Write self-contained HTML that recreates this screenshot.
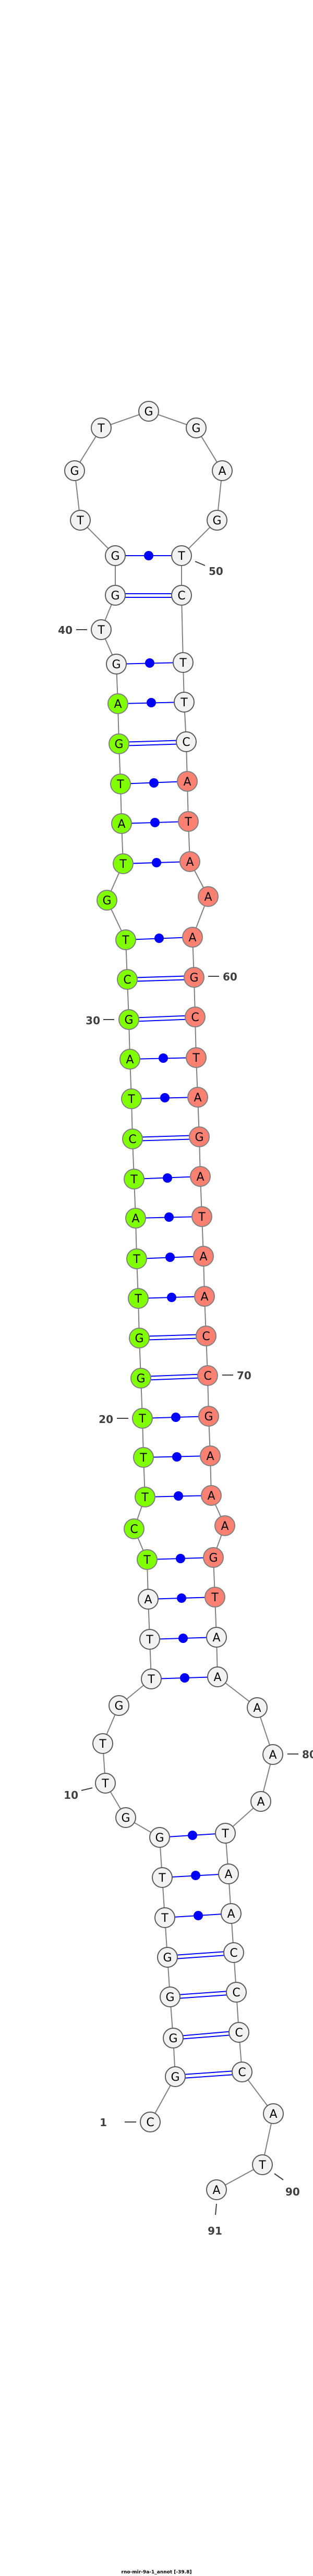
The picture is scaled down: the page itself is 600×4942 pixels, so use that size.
<!DOCTYPE html>
<html><head><meta charset="utf-8"><style>
html,body{margin:0;padding:0;background:#fff;}
svg{display:block;}
.n text{font-family:"DejaVu Sans","Liberation Sans",sans-serif;font-size:22px;text-anchor:middle;fill:#000;}
.w{fill:#f2f2f2;stroke:#5a5a5a;stroke-width:2;}
.g{fill:#7fff00;stroke:#808080;stroke-width:2;}
.r{fill:#fa8072;stroke:#808080;stroke-width:2;}
.lb{font-family:"DejaVu Sans","Liberation Sans",sans-serif;font-size:20px;font-weight:bold;fill:#404040;}
</style></head><body>
<svg width="600" height="4942" viewBox="0 0 600 4942" xmlns="http://www.w3.org/2000/svg">
<polyline fill="none" stroke="#808080" stroke-width="2" points="288,4071 336,3984 332,3910 326,3831 321,3755 316,3679 311,3602 306,3525 241,3487 202,3421 197,3345 228,3272 290,3221 287,3145 284,3068 282,2992 257,2933 278,2872 275,2796 273,2721 270,2644 267,2567 265,2491 262,2415 260,2337 257,2262 254,2185 252,2108 249,2032 247,1956 244,1879 241,1803 205,1727 236,1657 233,1580 231,1504 228,1427 226,1350 223,1274 194,1208 221,1142 221,1066 154,998 143,903 194,821 285,789 376,821 426,903 416,998 348,1066 348,1142 351,1271 353,1347 357,1423 359,1499 361,1576 364,1653 399,1720 369,1798 372,1875 374,1951 376,2029 379,2105 382,2181 384,2257 387,2334 390,2410 392,2487 395,2563 398,2639 400,2717 403,2793 405,2869 431,2927 409,2988 412,3064 415,3141 417,3217 493,3276 523,3366 500,3456 432,3517 438,3595 443,3671 448,3746 453,3822 458,3899 464,3975 524,4055 503,4153 415,4201"/>
<g stroke="#0000ff" stroke-width="2">
<!-- double lines (GC) -->
<line x1="336" y1="3981" x2="464" y2="3972"/><line x1="336" y1="3988" x2="464" y2="3979"/>
<line x1="332" y1="3907" x2="458" y2="3896"/><line x1="332" y1="3913" x2="458" y2="3903"/>
<line x1="326" y1="3828" x2="453" y2="3819"/><line x1="326" y1="3835" x2="453" y2="3826"/>
<line x1="321" y1="3752" x2="448" y2="3743"/><line x1="321" y1="3759" x2="448" y2="3750"/>
<line x1="270" y1="2641" x2="398" y2="2636"/><line x1="270" y1="2648" x2="398" y2="2643"/>
<line x1="267" y1="2564" x2="395" y2="2560"/><line x1="267" y1="2571" x2="395" y2="2567"/>
<line x1="254" y1="2182" x2="382" y2="2178"/><line x1="254" y1="2189" x2="382" y2="2185"/>
<line x1="247" y1="1953" x2="374" y2="1948"/><line x1="247" y1="1960" x2="374" y2="1955"/>
<line x1="244" y1="1876" x2="372" y2="1872"/><line x1="244" y1="1883" x2="372" y2="1879"/>
<line x1="228" y1="1424" x2="357" y2="1420"/><line x1="228" y1="1431" x2="357" y2="1427"/>
<line x1="221" y1="1139" x2="348" y2="1139"/><line x1="221" y1="1146" x2="348" y2="1146"/>
<!-- single lines -->
<line x1="316" y1="3679" x2="443" y2="3671"/>
<line x1="311" y1="3602" x2="438" y2="3595"/>
<line x1="306" y1="3525" x2="432" y2="3517"/>
<line x1="290" y1="3221" x2="417" y2="3217"/>
<line x1="287" y1="3145" x2="415" y2="3141"/>
<line x1="284" y1="3068" x2="412" y2="3064"/>
<line x1="282" y1="2992" x2="409" y2="2988"/>
<line x1="278" y1="2872" x2="405" y2="2869"/>
<line x1="275" y1="2796" x2="403" y2="2793"/>
<line x1="273" y1="2721" x2="400" y2="2717"/>
<line x1="265" y1="2491" x2="392" y2="2487"/>
<line x1="262" y1="2415" x2="390" y2="2410"/>
<line x1="260" y1="2337" x2="387" y2="2334"/>
<line x1="257" y1="2262" x2="384" y2="2257"/>
<line x1="252" y1="2108" x2="379" y2="2105"/>
<line x1="249" y1="2032" x2="376" y2="2029"/>
<line x1="241" y1="1803" x2="369" y2="1798"/>
<line x1="236" y1="1657" x2="364" y2="1653"/>
<line x1="233" y1="1580" x2="361" y2="1576"/>
<line x1="231" y1="1504" x2="359" y2="1499"/>
<line x1="226" y1="1350" x2="353" y2="1347"/>
<line x1="223" y1="1274" x2="351" y2="1271"/>
<line x1="221" y1="1066" x2="348" y2="1066"/>
</g>
<g fill="#0000ff">
<circle cx="380" cy="3675" r="9"/><circle cx="375" cy="3598" r="9"/><circle cx="369" cy="3521" r="9"/>
<circle cx="354" cy="3219" r="9"/><circle cx="351" cy="3143" r="9"/><circle cx="348" cy="3066" r="9"/>
<circle cx="346" cy="2990" r="9"/><circle cx="342" cy="2870" r="9"/><circle cx="339" cy="2795" r="9"/>
<circle cx="337" cy="2719" r="9"/><circle cx="329" cy="2489" r="9"/><circle cx="326" cy="2412" r="9"/>
<circle cx="324" cy="2335" r="9"/><circle cx="321" cy="2260" r="9"/><circle cx="316" cy="2106" r="9"/>
<circle cx="313" cy="2030" r="9"/><circle cx="305" cy="1800" r="9"/><circle cx="300" cy="1655" r="9"/>
<circle cx="297" cy="1578" r="9"/><circle cx="295" cy="1502" r="9"/><circle cx="290" cy="1348" r="9"/>
<circle cx="287" cy="1272" r="9"/><circle cx="285" cy="1066" r="9"/>
</g>
<g class="n">
<circle class="w" cx="288" cy="4071" r="19"/><text x="288" y="4079">C</text>
<circle class="w" cx="336" cy="3984" r="19"/><text x="336" y="3992">G</text>
<circle class="w" cx="332" cy="3910" r="19"/><text x="332" y="3918">G</text>
<circle class="w" cx="326" cy="3831" r="19"/><text x="326" y="3839">G</text>
<circle class="w" cx="321" cy="3755" r="19"/><text x="321" y="3763">G</text>
<circle class="w" cx="316" cy="3679" r="19"/><text x="316" y="3687">T</text>
<circle class="w" cx="311" cy="3602" r="19"/><text x="311" y="3610">T</text>
<circle class="w" cx="306" cy="3525" r="19"/><text x="306" y="3533">G</text>
<circle class="w" cx="241" cy="3487" r="19"/><text x="241" y="3495">G</text>
<circle class="w" cx="202" cy="3421" r="19"/><text x="202" y="3429">T</text>
<circle class="w" cx="197" cy="3345" r="19"/><text x="197" y="3353">T</text>
<circle class="w" cx="228" cy="3272" r="19"/><text x="228" y="3280">G</text>
<circle class="w" cx="290" cy="3221" r="19"/><text x="290" y="3229">T</text>
<circle class="w" cx="287" cy="3145" r="19"/><text x="287" y="3153">T</text>
<circle class="w" cx="284" cy="3068" r="19"/><text x="284" y="3076">A</text>
<circle class="g" cx="282" cy="2992" r="19"/><text x="282" y="3000">T</text>
<circle class="g" cx="257" cy="2933" r="19"/><text x="257" y="2941">C</text>
<circle class="g" cx="278" cy="2872" r="19"/><text x="278" y="2880">T</text>
<circle class="g" cx="275" cy="2796" r="19"/><text x="275" y="2804">T</text>
<circle class="g" cx="273" cy="2721" r="19"/><text x="273" y="2729">T</text>
<circle class="g" cx="270" cy="2644" r="19"/><text x="270" y="2652">G</text>
<circle class="g" cx="267" cy="2567" r="19"/><text x="267" y="2575">G</text>
<circle class="g" cx="265" cy="2491" r="19"/><text x="265" y="2499">T</text>
<circle class="g" cx="262" cy="2415" r="19"/><text x="262" y="2423">T</text>
<circle class="g" cx="260" cy="2337" r="19"/><text x="260" y="2345">A</text>
<circle class="g" cx="257" cy="2262" r="19"/><text x="257" y="2270">T</text>
<circle class="g" cx="254" cy="2185" r="19"/><text x="254" y="2193">C</text>
<circle class="g" cx="252" cy="2108" r="19"/><text x="252" y="2116">T</text>
<circle class="g" cx="249" cy="2032" r="19"/><text x="249" y="2040">A</text>
<circle class="g" cx="247" cy="1956" r="19"/><text x="247" y="1964">G</text>
<circle class="g" cx="244" cy="1879" r="19"/><text x="244" y="1887">C</text>
<circle class="g" cx="241" cy="1803" r="19"/><text x="241" y="1811">T</text>
<circle class="g" cx="205" cy="1727" r="19"/><text x="205" y="1735">G</text>
<circle class="g" cx="236" cy="1657" r="19"/><text x="236" y="1665">T</text>
<circle class="g" cx="233" cy="1580" r="19"/><text x="233" y="1588">A</text>
<circle class="g" cx="231" cy="1504" r="19"/><text x="231" y="1512">T</text>
<circle class="g" cx="228" cy="1427" r="19"/><text x="228" y="1435">G</text>
<circle class="g" cx="226" cy="1350" r="19"/><text x="226" y="1358">A</text>
<circle class="w" cx="223" cy="1274" r="19"/><text x="223" y="1282">G</text>
<circle class="w" cx="194" cy="1208" r="19"/><text x="194" y="1216">T</text>
<circle class="w" cx="221" cy="1142" r="19"/><text x="221" y="1150">G</text>
<circle class="w" cx="221" cy="1066" r="19"/><text x="221" y="1074">G</text>
<circle class="w" cx="154" cy="998" r="19"/><text x="154" y="1006">T</text>
<circle class="w" cx="143" cy="903" r="19"/><text x="143" y="911">G</text>
<circle class="w" cx="194" cy="821" r="19"/><text x="194" y="829">T</text>
<circle class="w" cx="285" cy="789" r="19"/><text x="285" y="797">G</text>
<circle class="w" cx="376" cy="821" r="19"/><text x="376" y="829">G</text>
<circle class="w" cx="426" cy="903" r="19"/><text x="426" y="911">A</text>
<circle class="w" cx="416" cy="998" r="19"/><text x="416" y="1006">G</text>
<circle class="w" cx="348" cy="1066" r="19"/><text x="348" y="1074">T</text>
<circle class="w" cx="348" cy="1142" r="19"/><text x="348" y="1150">C</text>
<circle class="w" cx="351" cy="1271" r="19"/><text x="351" y="1279">T</text>
<circle class="w" cx="353" cy="1347" r="19"/><text x="353" y="1355">T</text>
<circle class="w" cx="357" cy="1423" r="19"/><text x="357" y="1431">C</text>
<circle class="r" cx="359" cy="1499" r="19"/><text x="359" y="1507">A</text>
<circle class="r" cx="361" cy="1576" r="19"/><text x="361" y="1584">T</text>
<circle class="r" cx="364" cy="1653" r="19"/><text x="364" y="1661">A</text>
<circle class="r" cx="399" cy="1720" r="19"/><text x="399" y="1728">A</text>
<circle class="r" cx="369" cy="1798" r="19"/><text x="369" y="1806">A</text>
<circle class="r" cx="372" cy="1875" r="19"/><text x="372" y="1883">G</text>
<circle class="r" cx="374" cy="1951" r="19"/><text x="374" y="1959">C</text>
<circle class="r" cx="376" cy="2029" r="19"/><text x="376" y="2037">T</text>
<circle class="r" cx="379" cy="2105" r="19"/><text x="379" y="2113">A</text>
<circle class="r" cx="382" cy="2181" r="19"/><text x="382" y="2189">G</text>
<circle class="r" cx="384" cy="2257" r="19"/><text x="384" y="2265">A</text>
<circle class="r" cx="387" cy="2334" r="19"/><text x="387" y="2342">T</text>
<circle class="r" cx="390" cy="2410" r="19"/><text x="390" y="2418">A</text>
<circle class="r" cx="392" cy="2487" r="19"/><text x="392" y="2495">A</text>
<circle class="r" cx="395" cy="2563" r="19"/><text x="395" y="2571">C</text>
<circle class="r" cx="398" cy="2639" r="19"/><text x="398" y="2647">C</text>
<circle class="r" cx="400" cy="2717" r="19"/><text x="400" y="2725">G</text>
<circle class="r" cx="403" cy="2793" r="19"/><text x="403" y="2801">A</text>
<circle class="r" cx="405" cy="2869" r="19"/><text x="405" y="2877">A</text>
<circle class="r" cx="431" cy="2927" r="19"/><text x="431" y="2935">A</text>
<circle class="r" cx="409" cy="2988" r="19"/><text x="409" y="2996">G</text>
<circle class="r" cx="412" cy="3064" r="19"/><text x="412" y="3072">T</text>
<circle class="w" cx="415" cy="3141" r="19"/><text x="415" y="3149">A</text>
<circle class="w" cx="417" cy="3217" r="19"/><text x="417" y="3225">A</text>
<circle class="w" cx="493" cy="3276" r="19"/><text x="493" y="3284">A</text>
<circle class="w" cx="523" cy="3366" r="19"/><text x="523" y="3374">A</text>
<circle class="w" cx="500" cy="3456" r="19"/><text x="500" y="3464">A</text>
<circle class="w" cx="432" cy="3517" r="19"/><text x="432" y="3525">T</text>
<circle class="w" cx="438" cy="3595" r="19"/><text x="438" y="3603">A</text>
<circle class="w" cx="443" cy="3671" r="19"/><text x="443" y="3679">A</text>
<circle class="w" cx="448" cy="3746" r="19"/><text x="448" y="3754">C</text>
<circle class="w" cx="453" cy="3822" r="19"/><text x="453" y="3830">C</text>
<circle class="w" cx="458" cy="3899" r="19"/><text x="458" y="3907">C</text>
<circle class="w" cx="464" cy="3975" r="19"/><text x="464" y="3983">C</text>
<circle class="w" cx="524" cy="4055" r="19"/><text x="524" y="4063">A</text>
<circle class="w" cx="503" cy="4153" r="19"/><text x="503" y="4161">T</text>
<circle class="w" cx="415" cy="4201" r="19"/><text x="415" y="4209">A</text>
</g>
<g stroke="#404040" stroke-width="2">
<line x1="239" y1="4071" x2="261" y2="4071"/>
<line x1="156" y1="3435" x2="177" y2="3430"/>
<line x1="224" y1="2721" x2="246" y2="2721"/>
<line x1="198" y1="1956" x2="219" y2="1956"/>
<line x1="146" y1="1208" x2="167" y2="1208"/>
<line x1="374" y1="1077" x2="393" y2="1085"/>
<line x1="399" y1="1873" x2="420" y2="1873"/>
<line x1="426" y1="2638" x2="447" y2="2638"/>
<line x1="551" y1="3365" x2="572" y2="3365"/>
<line x1="526" y1="4170" x2="543" y2="4182"/>
<line x1="415" y1="4228" x2="413" y2="4249"/>
</g>
<g class="lb">
<text x="205" y="4079" text-anchor="end">1</text>
<text x="150" y="3451" text-anchor="end">10</text>
<text x="217" y="2730" text-anchor="end">20</text>
<text x="192" y="1965" text-anchor="end">30</text>
<text x="139" y="1216" text-anchor="end">40</text>
<text x="400" y="1103">50</text>
<text x="427" y="1881">60</text>
<text x="454" y="2646">70</text>
<text x="579" y="3373">80</text>
<text x="547" y="4212">90</text>
<text x="412" y="4287" text-anchor="middle">91</text>
</g>
<text x="300" y="4937" text-anchor="middle" font-family="DejaVu Sans, Liberation Sans, sans-serif" font-size="9" font-weight="bold" fill="#000">rno-mir-9a-1_annot [-39.8]</text>
</svg>
</body></html>
